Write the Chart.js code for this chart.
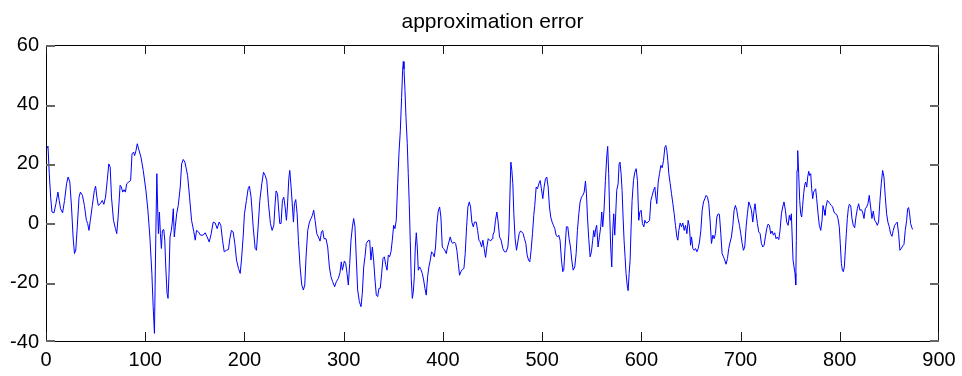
<!DOCTYPE html>
<html>
<head>
<meta charset="utf-8">
<title>approximation error</title>
<script src="https://cdn.jsdelivr.net/npm/chart.js@4/dist/chart.umd.min.js"></script>
<style>
  html, body { margin: 0; padding: 0; background: #fff; }
  #wrap { width: 962px; height: 376px; }
</style>
</head>
<body>
<div id="wrap"><canvas id="errChart" width="962" height="376"></canvas></div>
<script>
// sample index (x) and error value (y)
const errX = [
  0.7, 2.0, 3.3, 4.7, 6.0, 8.0, 10.0, 12.0, 13.3, 14.7, 16.7, 18.7, 20.7, 22.3, 24.0, 25.7, 27.3, 28.7, 30.0, 31.3,
  33.3, 34.7, 36.7, 38.7, 40.7, 42.0, 43.3, 44.7, 46.7, 48.7, 50.0, 51.3, 52.7, 54.7, 56.7, 58.3, 60.0, 61.7, 63.3, 64.7,
  66.0, 68.0, 70.0, 71.3, 72.7, 74.7, 76.0, 77.3, 78.7, 80.0, 81.3, 83.3, 85.3, 86.7, 88.3, 89.3, 90.7, 92.0, 93.3, 95.7,
  98.0, 100.7, 102.7, 104.7, 106.7, 108.0, 109.3, 110.7, 111.7, 112.7, 113.3, 114.3, 115.3, 116.3, 117.3, 118.7, 119.7, 120.7, 122.0, 123.0,
  124.0, 125.0, 126.3, 127.3, 128.3, 129.3, 130.3, 131.7, 133.3, 135.3, 136.7, 138.3, 140.0, 142.7, 144.7, 146.7,
  149.0, 150.4, 151.7, 153.7, 155.7, 158.4, 160.4, 162.4, 164.5, 166.5, 168.5, 170.5, 172.5, 174.5, 176.2, 177.9, 179.6, 181.9, 183.9, 185.3,
  186.9, 188.6, 190.3, 192.0, 194.0, 195.7, 197.0, 198.7, 200.0, 202.0, 203.7, 205.0, 206.7, 208.8, 210.8, 212.1, 213.8, 215.5, 217.5, 219.2,
  220.9, 222.5, 224.2, 226.2, 227.9, 229.6, 230.9, 231.9, 233.3, 234.3, 235.6, 236.9, 238.3, 239.6, 241.0, 242.3, 243.3, 244.7, 245.7, 247.0,
  248.4, 249.4, 250.4, 251.7, 253.1, 254.4, 256.1, 257.8, 259.4, 260.8, 262.1, 263.8, 265.5, 267.1, 268.5, 269.8, 271.2, 272.9, 274.5, 276.2,
  277.6, 278.9, 280.2, 282.2, 283.9, 285.6, 287.2, 288.9, 290.9, 292.6, 294.6, 296.3, 297.6, 298.7,
  300.7, 302.0, 303.4, 304.7, 306.1, 307.4, 308.8, 310.1, 311.4, 312.8, 314.1, 315.8, 317.5, 318.8, 320.2, 321.5, 322.8, 324.5, 326.2, 327.5,
  328.9, 330.2, 331.6, 332.9, 334.3, 335.6, 336.9, 338.3, 339.6, 341.0, 342.3, 343.7, 345.0, 346.3, 347.7, 349.0, 350.4, 351.7, 353.0, 354.4,
  355.7, 357.1, 358.4, 359.4, 360.1, 360.8, 361.8, 362.8, 364.1, 365.1, 366.1, 367.1, 368.1, 369.2, 370.2, 371.2, 372.2, 373.2, 374.2, 375.2,
  376.5, 377.9, 379.2, 380.6, 381.9, 383.2, 384.6, 385.9, 387.3, 388.6, 390.0, 391.3, 392.6, 394.0, 395.3, 396.7, 398.0, 399.4, 400.7, 402.0,
  403.4, 404.7, 406.1, 407.4, 408.8, 410.1, 411.4, 412.8, 414.1, 415.5, 416.8, 418.2, 419.5, 421.2, 422.5, 423.9, 425.2, 426.6, 427.9, 429.2,
  430.6, 431.9, 433.6, 435.0, 436.3, 437.6, 439.0, 440.3, 441.6, 443.0, 444.3, 445.7, 447.0, 448.3, 449.7,
  450.4, 451.7, 453.0, 454.4, 455.7, 457.1, 458.7, 460.4, 462.1, 463.8, 465.5, 466.5, 467.5, 468.5, 469.5, 470.5, 471.5, 472.8, 474.2, 475.5,
  476.9, 478.2, 479.6, 480.9, 482.2, 483.6, 484.9, 486.3, 487.6, 488.9, 490.3, 491.6, 492.6, 494.0, 495.3, 496.7, 498.0, 499.3, 500.7, 502.0,
  503.4, 504.7, 506.1, 507.4, 508.7, 510.1, 511.4, 512.8, 514.1, 515.5, 516.8, 518.1, 519.5, 520.8, 521.8, 523.2, 524.5, 525.9, 527.2, 528.6,
  529.9, 531.3, 532.9, 534.3, 535.6, 537.0, 538.3, 539.7, 541.0, 542.4, 543.7, 544.7, 545.7, 547.0, 548.4, 549.7, 551.0, 552.0, 553.0, 554.0,
  555.0, 556.4, 557.7, 559.1, 560.1, 561.1, 562.4, 563.8, 565.1, 566.1, 567.1, 568.1, 569.1, 570.2, 571.2, 572.2, 573.2, 574.2, 575.2, 576.6,
  577.6, 578.5, 579.6, 580.6, 581.6, 582.6, 583.6, 584.6, 585.7, 586.7, 587.7, 588.7, 589.7, 590.7, 592.1, 593.4, 594.8, 596.1, 597.4, 598.5,
  599.8, 601.1, 602.5,
  603.6, 604.9, 606.9, 608.3, 609.6, 611.0, 612.3, 613.6, 614.6, 615.6, 617.0, 618.3, 619.7, 621.0, 622.4, 623.7, 624.7, 625.7, 626.7, 627.7,
  629.1, 630.4, 631.8, 633.1, 634.4, 635.8, 636.8, 637.8, 639.1, 640.5, 641.8, 643.2, 644.5, 645.9, 647.2, 648.5, 649.6, 650.6, 651.9, 653.3,
  654.6, 656.0, 657.3, 658.6, 660.0, 661.3, 662.7, 664.0, 665.3, 666.7, 668.0, 669.4, 670.7, 672.1, 673.4, 674.7, 676.1, 677.4, 678.7, 680.1,
  681.4, 682.8, 684.1, 685.4, 686.8, 688.1, 689.5, 690.8, 692.2, 693.5, 694.8, 696.2, 697.5, 698.9, 700.2, 701.6, 702.9, 704.2, 705.6, 706.9,
  708.3, 709.6, 711.0, 712.3, 713.6, 714.6, 715.7, 717.0, 718.3, 719.7, 721.0, 722.4, 723.7, 725.0, 726.4, 727.7, 729.1, 730.4, 731.8, 733.1,
  734.4, 735.8, 737.1, 738.5, 739.8, 741.2, 742.5, 743.8, 745.2, 746.5, 747.9, 749.2, 750.2, 751.2,
  752.9, 753.9, 754.9, 755.6, 756.2, 756.9, 757.6, 758.6, 759.6, 760.6, 761.6, 762.6, 763.6, 764.6, 765.6, 766.7, 767.7, 768.7, 769.7, 770.7,
  771.7, 772.7, 773.7, 774.7, 775.7, 776.7, 778.1, 779.4, 780.8, 782.1, 783.1, 784.1, 785.1, 786.1, 787.5, 788.8, 790.1, 791.5, 792.8, 794.2,
  795.5, 796.9, 798.2, 799.5, 800.5, 801.6, 802.6, 803.6, 804.6, 805.6, 806.6, 807.6, 808.6, 809.6, 811.0, 812.3, 813.6, 815.0, 816.3, 817.7,
  819.0, 820.3, 821.7, 823.0, 824.4, 825.7, 827.1, 828.4, 829.7, 831.1, 832.4, 833.8, 835.1, 836.5, 837.8, 839.1, 840.5, 841.8, 843.2, 844.5,
  845.9, 847.2, 848.5, 849.9, 851.2, 852.6, 853.9, 855.3, 856.6, 857.9, 859.3, 860.6, 862.0, 863.3, 864.7, 866.0, 867.4, 868.4, 869.4, 870.4,
  871.4, 872.7, 873.4
];
const errY = [
  25.1, 26.0, 16.7, 8.8, 3.8, 3.5, 6.6, 10.5, 7.7, 4.9, 3.5, 7.7, 13.3, 15.6, 13.9, 5.5, -4.6, -10.2, -9.0, -2.4,
  8.8, 10.5, 9.4, 6.0, 1.0, -0.1, -2.4, 1.0, 6.0, 11.0, 12.5, 8.8, 6.0, 6.6, 7.7, 6.4, 8.8, 14.4, 20.0, 18.9,
  8.8, 1.0, -1.8, -3.5, 2.1, 12.8, 12.2, 10.5, 11.3, 10.5, 13.3, 13.9, 14.4, 23.4, 24.0, 22.8, 24.5, 26.8, 25.1, 22.3,
  17.8, 11.1, 4.4, -4.6, -16.9, -28.1, -37.1, -3.5, 16.7, 3.2, -3.5, 3.8, -3.5, -8.5, -2.4, -2.1, -5.7, -14.7, -23.6, -25.3,
  -16.9, -4.6, -2.4, 0.4, 4.9, -4.6, -1.2, 3.2, 6.0, 12.2, 20.0, 21.5, 20.6, 16.1, 8.8, 1.0,
  -2.9, -5.7, -2.4, -2.9, -4.0, -4.0, -3.2, -4.6, -6.3, -3.5, 0.4, 0.1, -1.8, 0.4, -0.7, -5.7, -9.6, -9.1, -8.8, -5.2,
  -2.4, -2.9, -6.8, -12.4, -15.2, -16.9, -12.4, -4.6, 3.2, 7.7, 11.6, 12.5, 8.8, -1.2, -8.5, -9.1, -1.2, 7.7, 13.3, 17.2,
  16.1, 14.4, 6.6, -0.1, -2.4, -0.7, 6.6, 10.9, 10.0, 5.5, -0.1, -0.1, 7.7, 8.8, 5.5, 1.0, 5.5, 15.0, 17.8, 12.2,
  5.5, 0.4, 6.6, 8.0, 3.2, -5.7, -14.7, -20.8, -22.5, -20.8, -11.3, -2.4, 0.4, 1.6, 2.7, 4.4, 1.0, -3.5, -4.6, -6.0,
  -2.9, -2.4, -5.2, -5.2, -8.0, -14.7, -18.0, -19.7, -21.4, -19.7, -18.6, -16.7, -13.0, -15.8,
  -12.7, -13.5, -16.9, -20.8, -13.5, -5.7, -1.2, 1.6, -1.2, -12.4, -22.5, -26.4, -28.1, -23.6, -14.7, -11.3, -6.8, -5.9, -5.7, -12.4,
  -8.0, -12.4, -19.1, -24.2, -24.7, -21.9, -21.9, -16.9, -11.9, -11.3, -13.8, -15.8, -10.7, -11.3, -9.6, -5.7, -0.7, -1.8, 1.0, 13.3,
  23.4, 31.2, 42.4, 51.4, 54.5, 52.0, 44.7, 35.7, 26.8, 16.7, 6.6, -5.7, -18.6, -25.3, -23.1, -18.0, -8.0, -3.2, -8.0, -15.8,
  -14.7, -15.6, -16.9, -19.1, -21.9, -24.2, -18.0, -14.7, -12.4, -9.6, -10.2, -11.3, -8.0, -0.1, 4.1, 5.5, 2.1, -8.0, -8.5, -9.1,
  -10.2, -8.0, -6.3, -4.6, -6.3, -6.8, -6.3, -6.8, -9.1, -13.5, -17.5, -16.3, -15.6, -15.2, -10.2, -1.2, 5.5, 7.2, 5.5, 0.4,
  -1.2, 0.4, 0.4, -2.4, -5.7, -6.3, -8.0, -5.7, -8.5, -11.5, -8.0, -5.2, -5.7, -5.9, -5.2,
  -4.0, -2.9, 1.0, 3.8, 0.4, -4.6, -5.7, -8.5, -9.6, -9.6, -8.0, -3.5, 8.8, 20.6, 17.8, 13.3, 3.2, -5.2, -9.1, -6.3,
  -3.5, -2.6, -2.9, -3.5, -5.2, -6.8, -10.7, -12.4, -13.0, -9.1, -3.5, 2.7, 6.0, 12.2, 11.6, 13.3, 14.4, 11.6, 8.3, 12.2,
  15.0, 15.6, 12.2, 5.5, 2.1, 0.4, -0.7, -1.8, -4.0, -4.6, -4.0, -5.7, -12.4, -16.3, -15.8, -8.0, -1.2, -1.2, -5.2, -8.0,
  -12.4, -15.8, -14.7, -10.2, -2.4, 3.2, 7.2, 8.8, 9.4, 10.5, 14.2, 9.9, 2.1, -5.2, -11.3, -9.6, -5.7, -2.4, -4.6, -1.8,
  -0.7, -8.0, -4.6, -1.2, 3.8, -1.2, 4.4, 14.4, 22.3, 25.9, 16.7, 3.2, -8.0, -14.7, -2.4, 3.2, -4.0, 3.2, 11.1, 13.3,
  20.0, 20.6, 16.7, 11.1, 2.1, -5.7, -11.3, -16.9, -20.8, -22.7, -16.9, -12.4, -1.2, 7.7, 14.4, 17.2, 18.4, 14.4, 1.0, 3.8,
  4.4, -0.1, -1.2,
  1.0, 0.1, 0.4, 1.0, 7.7, 9.4, 11.1, 12.2, 8.8, 6.6, 13.9, 16.7, 19.5, 18.7, 21.2, 25.6, 26.2, 24.5, 21.2, 16.7,
  13.3, 10.0, 6.6, 3.2, -0.7, -4.6, -5.7, -2.4, 0.1, -1.2, 0.1, -2.4, -0.7, -3.5, 1.0, -1.2, -7.4, -4.6, -8.5, -9.1,
  -8.5, -9.6, -8.5, -6.3, -2.4, 4.4, 7.2, 8.3, 9.4, 8.8, 6.6, 0.4, -6.8, -4.0, -5.2, -3.5, 2.1, 3.2, 3.0, -3.5,
  -10.2, -11.3, -12.4, -13.8, -11.9, -8.5, -6.3, -4.6, -0.7, 4.4, 6.0, 4.4, 1.6, -0.7, -3.5, -6.8, -9.1, -8.0, -1.2, 3.2,
  7.2, 6.0, 4.4, 0.4, 4.4, 6.6, 3.2, -0.1, -2.9, -3.5, -6.8, -8.0, -7.4, -4.6, -1.8, -0.3, -0.7, -3.5, -2.6, -4.0,
  -3.2, -5.2, -4.6, -5.5, -2.4, 3.2, 5.5, 7.2, 4.4, 0.4, -0.7, 2.7, 1.0, 3.2,
  -12.4, -14.7, -16.9, -20.8, -5.7, 17.8, 24.5, 16.7, 7.7, 3.2, 2.1, 6.0, 10.0, 12.8, 13.9, 12.2, 15.6, 17.5, 16.1, 16.7,
  11.6, 8.3, 10.5, 11.1, 11.6, 8.3, 3.2, -0.7, -2.4, 1.0, 6.0, 4.4, 2.7, 5.5, 7.7, 7.2, 6.6, 6.0, 5.5, 3.8,
  3.2, 3.0, 1.6, -1.2, -6.8, -13.5, -15.8, -16.3, -14.7, -9.1, -3.5, 1.6, 4.9, 6.4, 6.0, 1.6, -0.7, -1.5, 2.1, 4.9,
  6.6, 4.4, 4.6, 3.8, 1.6, 4.9, 5.5, 6.6, 9.4, 5.5, 1.6, 4.1, 1.0, 0.4, -0.7, 0.4, 7.7, 13.3, 17.8, 15.6,
  8.8, 3.2, 0.4, -1.2, -3.5, -4.4, -2.4, -0.7, -0.1, 0.4, -3.5, -9.1, -8.5, -7.7, -7.1, -2.4, 1.0, 4.9, 5.3, 3.2,
  -0.1, -1.5, -2.1
];
const xTicks = [0, 100, 200, 300, 400, 500, 600, 700, 800, 900];
const yTicks = [-40, -20, 0, 20, 40, 60];
const titleText = 'approximation error';

const FONT = '"Liberation Sans", Arial, Helvetica, sans-serif';

// matlab style box, tick marks point inward on all four sides
const boxTicks = {
    id: 'boxTicks',
    afterDraw(chart) {
        const c = chart.ctx;
        const a = chart.chartArea;
        const xs = chart.scales.x, ys = chart.scales.y;
        const len = 9;
        const L = Math.round(a.left), R = Math.round(a.right) - 1;
        const T = Math.round(a.top), B = Math.round(a.bottom) - 1;
        c.save();
        c.fillStyle = '#000';
        c.fillRect(L, T, R - L + 1, 1);
        c.fillRect(L, B, R - L + 1, 1);
        c.fillRect(L, T, 1, B - T + 1);
        c.fillRect(R, T, 1, B - T + 1);
        c.fillStyle = '#1a1a1a';
        for (const v of xTicks) {
            const px = Math.min(R, Math.round(xs.getPixelForValue(v)));
            c.fillRect(px, B - len, 1, len);
            c.fillRect(px, T, 1, len);
        }
        c.fillStyle = '#666';
        for (const v of yTicks) {
            const py = Math.min(B - 1, Math.round(ys.getPixelForValue(v)));
            c.fillRect(L, py, len, 2);
            c.fillRect(R - len + 1, py, len, 2);
        }
        c.restore();
    }
};

const ctx = document.getElementById('errChart').getContext('2d');

new Chart(ctx, {
    type: 'line',
    data: {
        datasets: [{
            label: titleText,
            data: errX.map((x, i) => ({ x: x, y: errY[i] })),
            borderColor: '#0000ff',
            borderWidth: 1,
            pointRadius: 0,
            tension: 0,
            fill: false
        }]
    },
    options: {
        responsive: false,
        animation: false,
        layout: { padding: { left: 0, right: 23, top: 0, bottom: 0 } },
        plugins: {
            legend: { display: false },
            tooltip: { enabled: false },
            title: {
                display: true,
                text: titleText,
                fullSize: false,
                color: '#000',
                font: { family: FONT, size: 21, weight: 'normal' },
                padding: { top: 10, bottom: 10 }
            }
        },
        scales: {
            x: {
                type: 'linear',
                min: 0,
                max: 900,
                afterFit: s => { s.height = 34; },
                afterBuildTicks: s => { s.ticks = xTicks.map(v => ({ value: v })); },
                grid: { display: false, drawTicks: false },
                border: { display: false },
                ticks: {
                    autoSkip: false,
                    maxRotation: 0,
                    padding: 6,
                    color: '#000',
                    font: { family: FONT, size: 20 }
                }
            },
            y: {
                min: -40,
                max: 60,
                afterFit: s => { s.width = 46; },
                afterBuildTicks: s => { s.ticks = yTicks.map(v => ({ value: v })); },
                grid: { display: false, drawTicks: false },
                border: { display: false },
                ticks: {
                    padding: 7,
                    color: '#000',
                    font: { family: FONT, size: 20 }
                }
            }
        }
    },
    plugins: [boxTicks]
});
</script>
</body>
</html>
